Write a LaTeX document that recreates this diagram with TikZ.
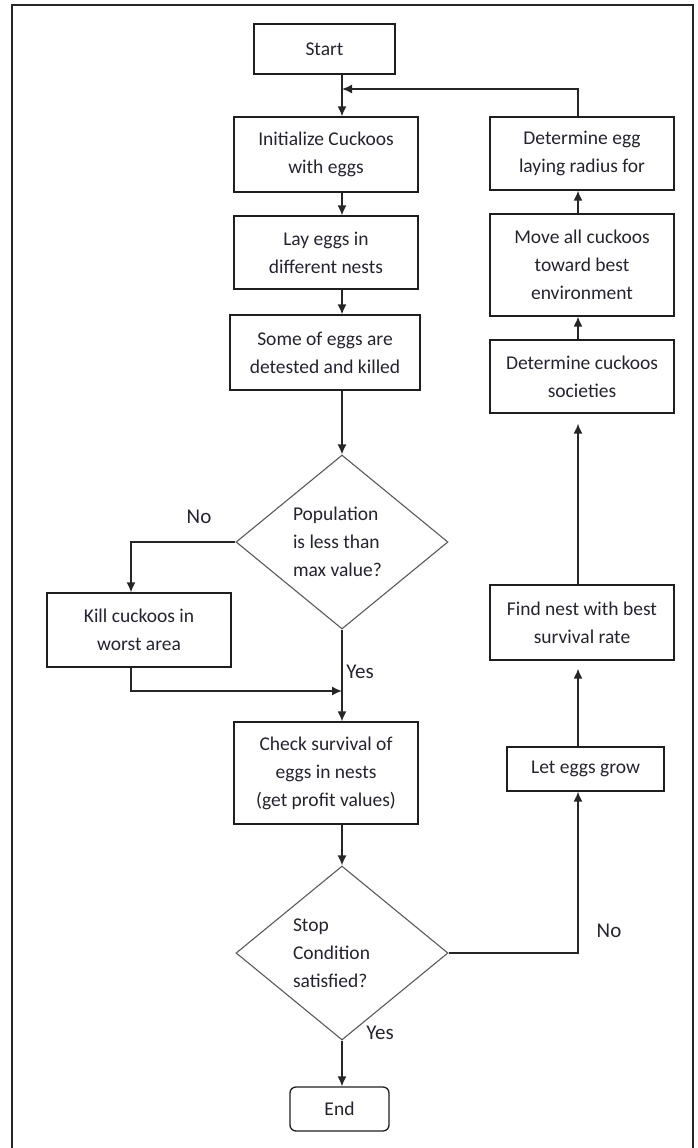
\documentclass[tikz,border=0pt]{standalone}
\usepackage{fontspec}
\setmainfont{Carlito}
\usetikzlibrary{arrows.meta}
\usetikzlibrary{shapes.geometric}
\definecolor{ink}{RGB}{35,35,50}
\definecolor{edge}{RGB}{30,30,30}

\begin{document}
\begin{tikzpicture}
[
	x = 1pt, y = -1pt,
	font = \fontsize{19.5}{28}\selectfont,
	box/.style = {rectangle, draw = edge, line width = 1.3pt, text = ink, align = center, inner sep = 0pt, minimum width = 184pt},
	decision/.style = {diamond, draw = black!65, line width = 1.1pt, text = ink, align = flush left, text width = 98pt, inner sep = 0pt, minimum width = 212pt, minimum height = 174pt},
	answer/.style = {text = ink, font = \fontsize{21}{24}\selectfont, inner sep = 0pt},
	link/.style = {-{Latex[length = 10pt, width = 9pt]}, draw = black!85, line width = 1.5pt},
]
	\useasboundingbox (0, 0) rectangle (697, 1148);

	% frame
	\draw [line width = 2pt, black!85] (12, 1150) -- (12, 5) -- (693, 5) -- (693, 1150);

	% main column
	\node (start) [box, minimum width = 141pt, minimum height = 50pt] at (324.5, 49) {Start};
	\node (init) [box, minimum height = 75pt] at (326, 154.5) {Initialize Cuckoos\\with eggs};
	\node (lay) [box, minimum height = 73pt] at (326, 252.5) {Lay eggs in\\different nests};
	\node (detect) [box, minimum width = 190pt, minimum height = 75pt] at (325, 352.5) {Some of eggs are\\detested and killed};
	\node (pop) [decision] at (342, 542) {Population\\is less than\\max value?};
	\node (kill) [box, minimum height = 74pt] at (139, 630) {Kill cuckoos in\\worst area};
	\node (check) [box, minimum height = 102pt] at (326, 773) {Check survival of\\eggs in nests\\(get profit values)};
	\node (stop) [decision] at (342, 953) {Stop\\Condition\\satisfied?};
	\node (end) [box, rounded corners = 6pt, minimum width = 99pt, minimum height = 44pt] at (339.5, 1109) {End};
	%
	\node (radius) [box, minimum height = 73pt] at (582, 153.5) {Determine egg\\laying radius for};
	\node (move) [box, minimum height = 102pt] at (582, 265) {Move all cuckoos\\toward best\\environment};
	\node (society) [box, minimum height = 73pt] at (582, 376.5) {Determine cuckoos\\societies};
	\node (nest) [box, minimum height = 75pt] at (582, 622.5) {Find nest with best\\survival rate};
	\node (grow) [box, minimum width = 157pt, minimum height = 44pt] at (585.5, 769) {Let eggs grow};

	% answers
	\node (no1) [answer] at (199, 517) {No};
	\node (yes1) [answer] at (360, 672) {Yes};
	\node (no2) [answer] at (609, 931) {No};
	\node (yes2) [answer] at (380, 1033) {Yes};

	\coordinate (loop) at (342, 89);
	\coordinate (merge) at (342, 691);

	% paths -- down
	\draw [link] (start.south -| loop) -- (init.north -| loop);
	\draw [link] (init.south -| loop) -- (lay.north -| loop);
	\draw [link] (lay.south -| loop) -- (detect.north -| loop);
	\draw [link] (detect.south -| pop.north) -- (pop.north);
	\draw [link] (pop.west) -| ([xshift = -8pt]kill.north);
	\draw [link] ([xshift = -8pt]kill.south) |- (merge);
	\draw [link] (pop.south) -- (check.north -| pop.south);
	\draw [link] (check.south -| stop.north) -- (stop.north);
	\draw [link] (stop.south) -- (end.north -| stop.south);

	% paths -- up
	\draw [link] (stop.east) -| ([xshift = -7.5pt]grow.south);
	\draw [link, shorten > = 8pt] ([xshift = -7.5pt]grow.north) -- ([xshift = -4pt]nest.south);
	\draw [link, shorten > = 10pt] ([xshift = -4pt]nest.north) -- ([xshift = -4pt]society.south);
	\draw [link] ([xshift = -4pt]society.north) -- ([xshift = -4pt]move.south);
	\draw [link] ([xshift = -4pt]move.north) -- ([xshift = -4pt]radius.south);
	\draw [link] ([xshift = -4pt]radius.north) |- (loop);

\end{tikzpicture}
\end{document}
